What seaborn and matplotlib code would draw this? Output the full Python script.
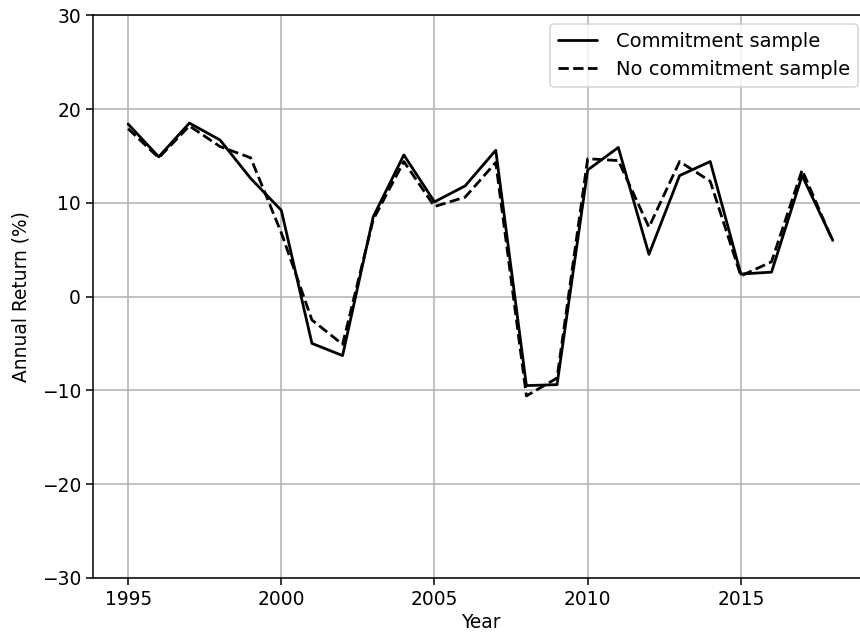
import matplotlib
matplotlib.use("Agg")
import matplotlib.pyplot as plt
import seaborn as sns
import pandas as pd

years = list(range(1995, 2019))
commitment = [18.4, 14.9, 18.5, 16.7, 12.6, 9.2, -5.0, -6.3, 8.5, 15.1, 10.1, 11.8,
              15.6, -9.5, -9.4, 13.5, 15.9, 4.5, 12.9, 14.4, 2.4, 2.6, 12.9, 6.0]
no_commitment = [17.9, 14.8, 18.2, 16.0, 14.8, 6.8, -2.5, -5.1, 8.2, 14.4, 9.6, 10.6,
                 14.3, -10.6, -8.7, 14.7, 14.5, 7.4, 14.4, 12.3, 2.2, 3.7, 13.5, 5.9]
series_names = ["Commitment sample", "No commitment sample"]

df = pd.DataFrame({
    "Year": years * 2,
    "Return": commitment + no_commitment,
    "Sample": [series_names[0]] * len(years) + [series_names[1]] * len(years),
})

sns.set_style("ticks", rc={"text.color": "black", "axes.labelcolor": "black",
                           "xtick.color": "black", "ytick.color": "black",
                           "axes.edgecolor": "black"})
plt.rcParams["font.family"] = ["DejaVu Sans"]

fig, ax = plt.subplots(figsize=(8.6, 6.37), dpi=100)
fig.subplots_adjust(left=0.108, right=1.0093, top=0.976, bottom=0.093)

sns.lineplot(data=df, x="Year", y="Return", style="Sample", color="black",
             dashes={series_names[0]: "", series_names[1]: (3.7, 1.6)},
             linewidth=2.0, ax=ax)

ax.set_ylim(-30, 30)
ax.set_xlim(1993.85, 2019.15)
ax.set_xticks([1995, 2000, 2005, 2010, 2015])
ax.set_yticks([-30, -20, -10, 0, 10, 20, 30])
ax.grid(True, color="#b0b0b0", linewidth=1.1)
ax.set_axisbelow(True)
ax.tick_params(labelsize=13.4, length=5, width=1.1, colors="black")
ax.set_xlabel("Year", fontsize=13.4, labelpad=3)
ax.set_ylabel("Annual Return (%)", fontsize=13.4, labelpad=8)
for s in ax.spines.values():
    s.set_linewidth(1.1)
    s.set_color("black")

leg = ax.legend(title=None, loc="upper right", bbox_to_anchor=(0.987, 0.984),
                fontsize=14.0, frameon=True, handlelength=2.0, handletextpad=1.0,
                labelspacing=0.45, borderaxespad=0.0, framealpha=0.8,
                fancybox=True)
leg.get_frame().set_edgecolor("#cccccc")
leg.get_frame().set_linewidth(1.1)
for line in leg.get_lines():
    line.set_linewidth(2.0)

fig.savefig("out.png", dpi=100)
